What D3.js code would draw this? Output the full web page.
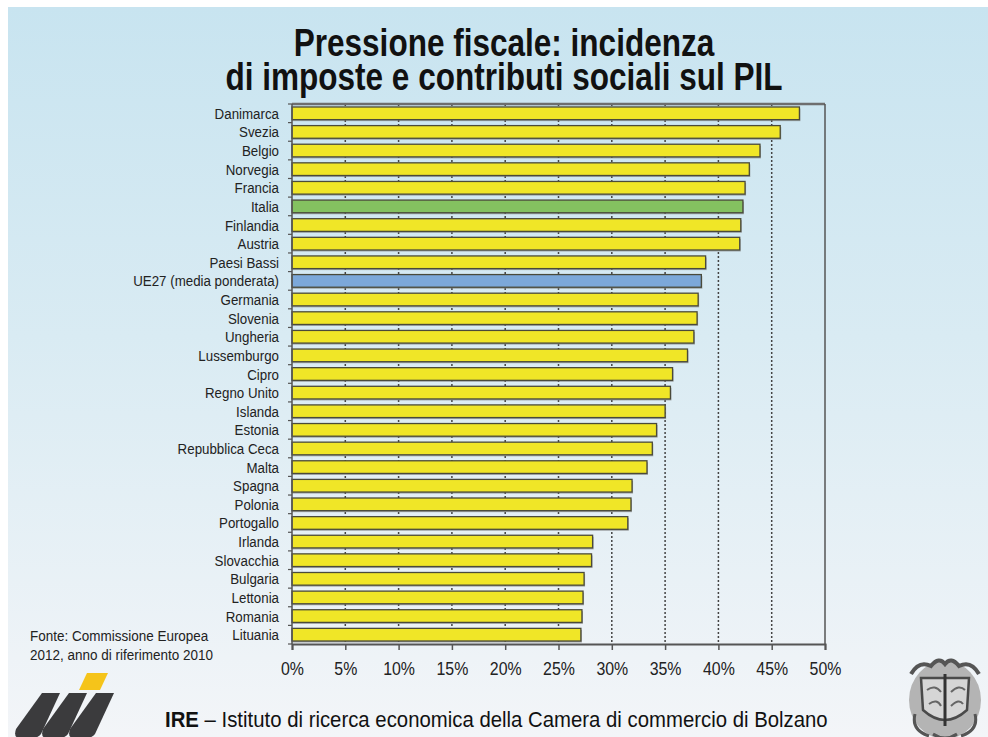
<!DOCTYPE html>
<html>
<head>
<meta charset="utf-8">
<script src="https://cdn.jsdelivr.net/npm/d3@7"></script>
<style>
  body { margin: 0; background: #fff; }
  svg text { font-family: "Liberation Sans", Arial, sans-serif; }
</style>
</head>
<body>
<svg id="chart" width="988" height="737"></svg>
<script>
// data (2010, % of GDP)
const countries = ["Danimarca", "Svezia", "Belgio", "Norvegia", "Francia", "Italia", "Finlandia", "Austria",
  "Paesi Bassi", "UE27 (media ponderata)", "Germania", "Slovenia", "Ungheria", "Lussemburgo", "Cipro",
  "Regno Unito", "Islanda", "Estonia", "Repubblica Ceca", "Malta", "Spagna", "Polonia", "Portogallo",
  "Irlanda", "Slovacchia", "Bulgaria", "Lettonia", "Romania", "Lituania"];
const values = [47.6, 45.8, 43.9, 42.9, 42.5, 42.3, 42.1, 42.0, 38.8, 38.4, 38.1, 38.0, 37.7, 37.1, 35.7,
  35.5, 35.0, 34.2, 33.8, 33.3, 31.9, 31.8, 31.5, 28.2, 28.1, 27.4, 27.3, 27.2, 27.1];
const highlight = { "Italia": "#84c160", "UE27 (media ponderata)": "#7ca8d9" };
const xTicks = [0, 5, 10, 15, 20, 25, 30, 35, 40, 45, 50];
const titleLines = ["Pressione fiscale: incidenza", "di imposte e contributi sociali sul PIL"];
const sourceLines = ["Fonte: Commissione Europea", "2012, anno di riferimento 2010"];

const rows = countries.map((c, i) => ({ name: c, value: values[i] }));

const svg = d3.select("#chart");
const W = 988, H = 737;

// no narrow font installed, so squeeze text horizontally
function narrowText(sel, sx) {
  sel.attr("transform", function () {
    const tx = +d3.select(this).attr("data-x"), ty = +d3.select(this).attr("data-y");
    return `translate(${tx},${ty}) scale(${sx},1)`;
  });
}

// background
const defs = svg.append("defs");
const grad = defs.append("linearGradient").attr("id", "bg").attr("x1", 0).attr("y1", 0).attr("x2", 0).attr("y2", 1);
grad.append("stop").attr("offset", "0%").attr("stop-color", "#c8e4f0");
grad.append("stop").attr("offset", "45%").attr("stop-color", "#d9ebf3");
grad.append("stop").attr("offset", "100%").attr("stop-color", "#f3f5f8");
svg.append("rect").attr("x", 8).attr("y", 7).attr("width", W - 8).attr("height", H - 7).attr("fill", "url(#bg)");

const margin = { top: 104, left: 292, right: 825, bottom: 644 };

const x = d3.scaleLinear().domain([0, 50]).range([margin.left, margin.right]);
const y = d3.scaleBand().domain(countries).range([margin.top, margin.bottom]).paddingInner(0.32).paddingOuter(0.16);

// title
svg.append("g").selectAll("text").data(titleLines).enter().append("text")
  .attr("data-x", 504)
  .attr("data-y", (d, i) => 56 + i * 34)
  .attr("text-anchor", "middle")
  .attr("font-size", 38)
  .attr("font-weight", "bold")
  .attr("fill", "#111")
  .text(d => d)
  .call(narrowText, 0.83);

// dotted gridlines
svg.append("g").selectAll("line").data(xTicks.slice(1, -1)).enter().append("line")
  .attr("x1", d => x(d)).attr("x2", d => x(d))
  .attr("y1", margin.top).attr("y2", margin.bottom)
  .attr("stroke", "#444")
  .attr("stroke-width", 1.5)
  .attr("stroke-dasharray", "2,2");

// frame top and right
svg.append("line").attr("x1", margin.left).attr("x2", margin.right)
  .attr("y1", margin.top).attr("y2", margin.top).attr("stroke", "#6e6e6e").attr("stroke-width", 2.5);
svg.append("line").attr("x1", margin.right).attr("x2", margin.right)
  .attr("y1", margin.top).attr("y2", margin.bottom).attr("stroke", "#555").attr("stroke-width", 1.5);

// bar shadows then bars
const bh = y.bandwidth();
svg.append("g").selectAll("rect").data(rows).enter().append("rect")
  .attr("x", x(0))
  .attr("y", d => y(d.name) + 1.5)
  .attr("width", d => x(d.value) - x(0) + 1)
  .attr("height", bh)
  .attr("fill", "#777")
  .attr("opacity", 0.6);

svg.append("g").selectAll("rect").data(rows).enter().append("rect")
  .attr("x", x(0))
  .attr("y", d => y(d.name))
  .attr("width", d => x(d.value) - x(0))
  .attr("height", bh)
  .attr("fill", d => highlight[d.name] || "#f0e627")
  .attr("stroke", "#4a4a3a")
  .attr("stroke-width", 1.3);

// y axis with ticks at category boundaries
const yAxis = svg.append("g").attr("transform", `translate(${margin.left},0)`);
yAxis.append("line").attr("x1", 0).attr("x2", 0).attr("y1", margin.top).attr("y2", margin.bottom)
  .attr("stroke", "#555").attr("stroke-width", 1.5);
const bounds = countries.map(c => y(c) - y.step() * y.paddingInner() / 2).concat([margin.bottom]);
yAxis.selectAll("line.tk").data(bounds).enter().append("line").attr("class", "tk")
  .attr("x1", -4).attr("x2", 0).attr("y1", d => d).attr("y2", d => d)
  .attr("stroke", "#555").attr("stroke-width", 1.2);
yAxis.selectAll("text").data(countries).enter().append("text")
  .attr("data-x", -13)
  .attr("data-y", d => y(d) + bh / 2 + 5.5)
  .attr("text-anchor", "end")
  .attr("font-size", 15.5)
  .attr("fill", "#222")
  .text(d => d)
  .call(narrowText, 0.86);

// x axis
const xAxis = svg.append("g").attr("transform", `translate(0,${margin.bottom})`)
  .call(d3.axisBottom(x).tickValues(xTicks).tickSize(6).tickFormat(d => d + "%"));
xAxis.select(".domain").attr("stroke", "#555").attr("stroke-width", 2);
xAxis.selectAll(".tick line").attr("stroke", "#555").attr("stroke-width", 1.5);
xAxis.selectAll(".tick text").remove();
xAxis.selectAll(".tick").append("text")
  .attr("data-x", 0).attr("data-y", 31)
  .attr("text-anchor", "middle")
  .attr("font-size", 18.5)
  .attr("fill", "#222")
  .text(d => d + "%")
  .call(narrowText, 0.86);

// source
svg.append("g").selectAll("text").data(sourceLines).enter().append("text")
  .attr("data-x", 30)
  .attr("data-y", (d, i) => 641 + i * 19)
  .attr("font-size", 14.5)
  .attr("fill", "#222")
  .text(d => d)
  .call(narrowText, 0.93);

// footer
const foot = svg.append("text").attr("data-x", 165).attr("data-y", 727).attr("font-size", 22).attr("fill", "#111");
foot.append("tspan").attr("font-weight", "bold").text("IRE");
foot.append("tspan").text(" – Istituto di ricerca economica della Camera di commercio di Bolzano");
foot.call(narrowText, 0.925);

// IRE logo
const logo = svg.append("g").attr("fill", "#3b3b3d");
[0, 27, 54].forEach(dx => {
  logo.append("path").attr("d",
    `M${42 + dx},693 L${60 + dx},693 L${41 + dx},734 Q${38 + dx},738 ${32 + dx},738 L${20 + dx},738 Q${13 + dx},738 ${16 + dx},729 Z`);
});
svg.append("path").attr("d", "M87,673 L108,673 L100,690 L79,690 Z").attr("fill", "#f5c41a");

// coat of arms (rough sketch)
const arms = svg.append("g").attr("transform", "translate(945,700)");
arms.append("ellipse").attr("rx", 36).attr("ry", 39).attr("fill", "#b4b4b4");
arms.append("path").attr("d", "M-34,-26 Q-26,-40 -14,-34 Q-6,-44 0,-36 Q6,-44 14,-34 Q26,-40 34,-26")
  .attr("fill", "none").attr("stroke", "#555").attr("stroke-width", 4);
arms.append("path").attr("d", "M-24,-22 L24,-22 L22,10 Q0,30 -22,10 Z").attr("fill", "#d6d6d6").attr("stroke", "#4a4a4a").attr("stroke-width", 2.5);
arms.append("line").attr("x1", 0).attr("x2", 0).attr("y1", -26).attr("y2", 26).attr("stroke", "#333").attr("stroke-width", 3);
arms.append("path").attr("d", "M-18,-10 Q-10,-16 -4,-8 M6,-8 Q14,-16 20,-10 M-16,4 Q-8,-2 -4,6 M6,6 Q14,-2 18,4")
  .attr("fill", "none").attr("stroke", "#666").attr("stroke-width", 2);
arms.append("path").attr("d", "M-30,14 Q-34,30 -16,36 M30,14 Q34,30 16,36 M-12,34 Q0,42 12,34")
  .attr("fill", "none").attr("stroke", "#555").attr("stroke-width", 3);
</script>
</body>
</html>
